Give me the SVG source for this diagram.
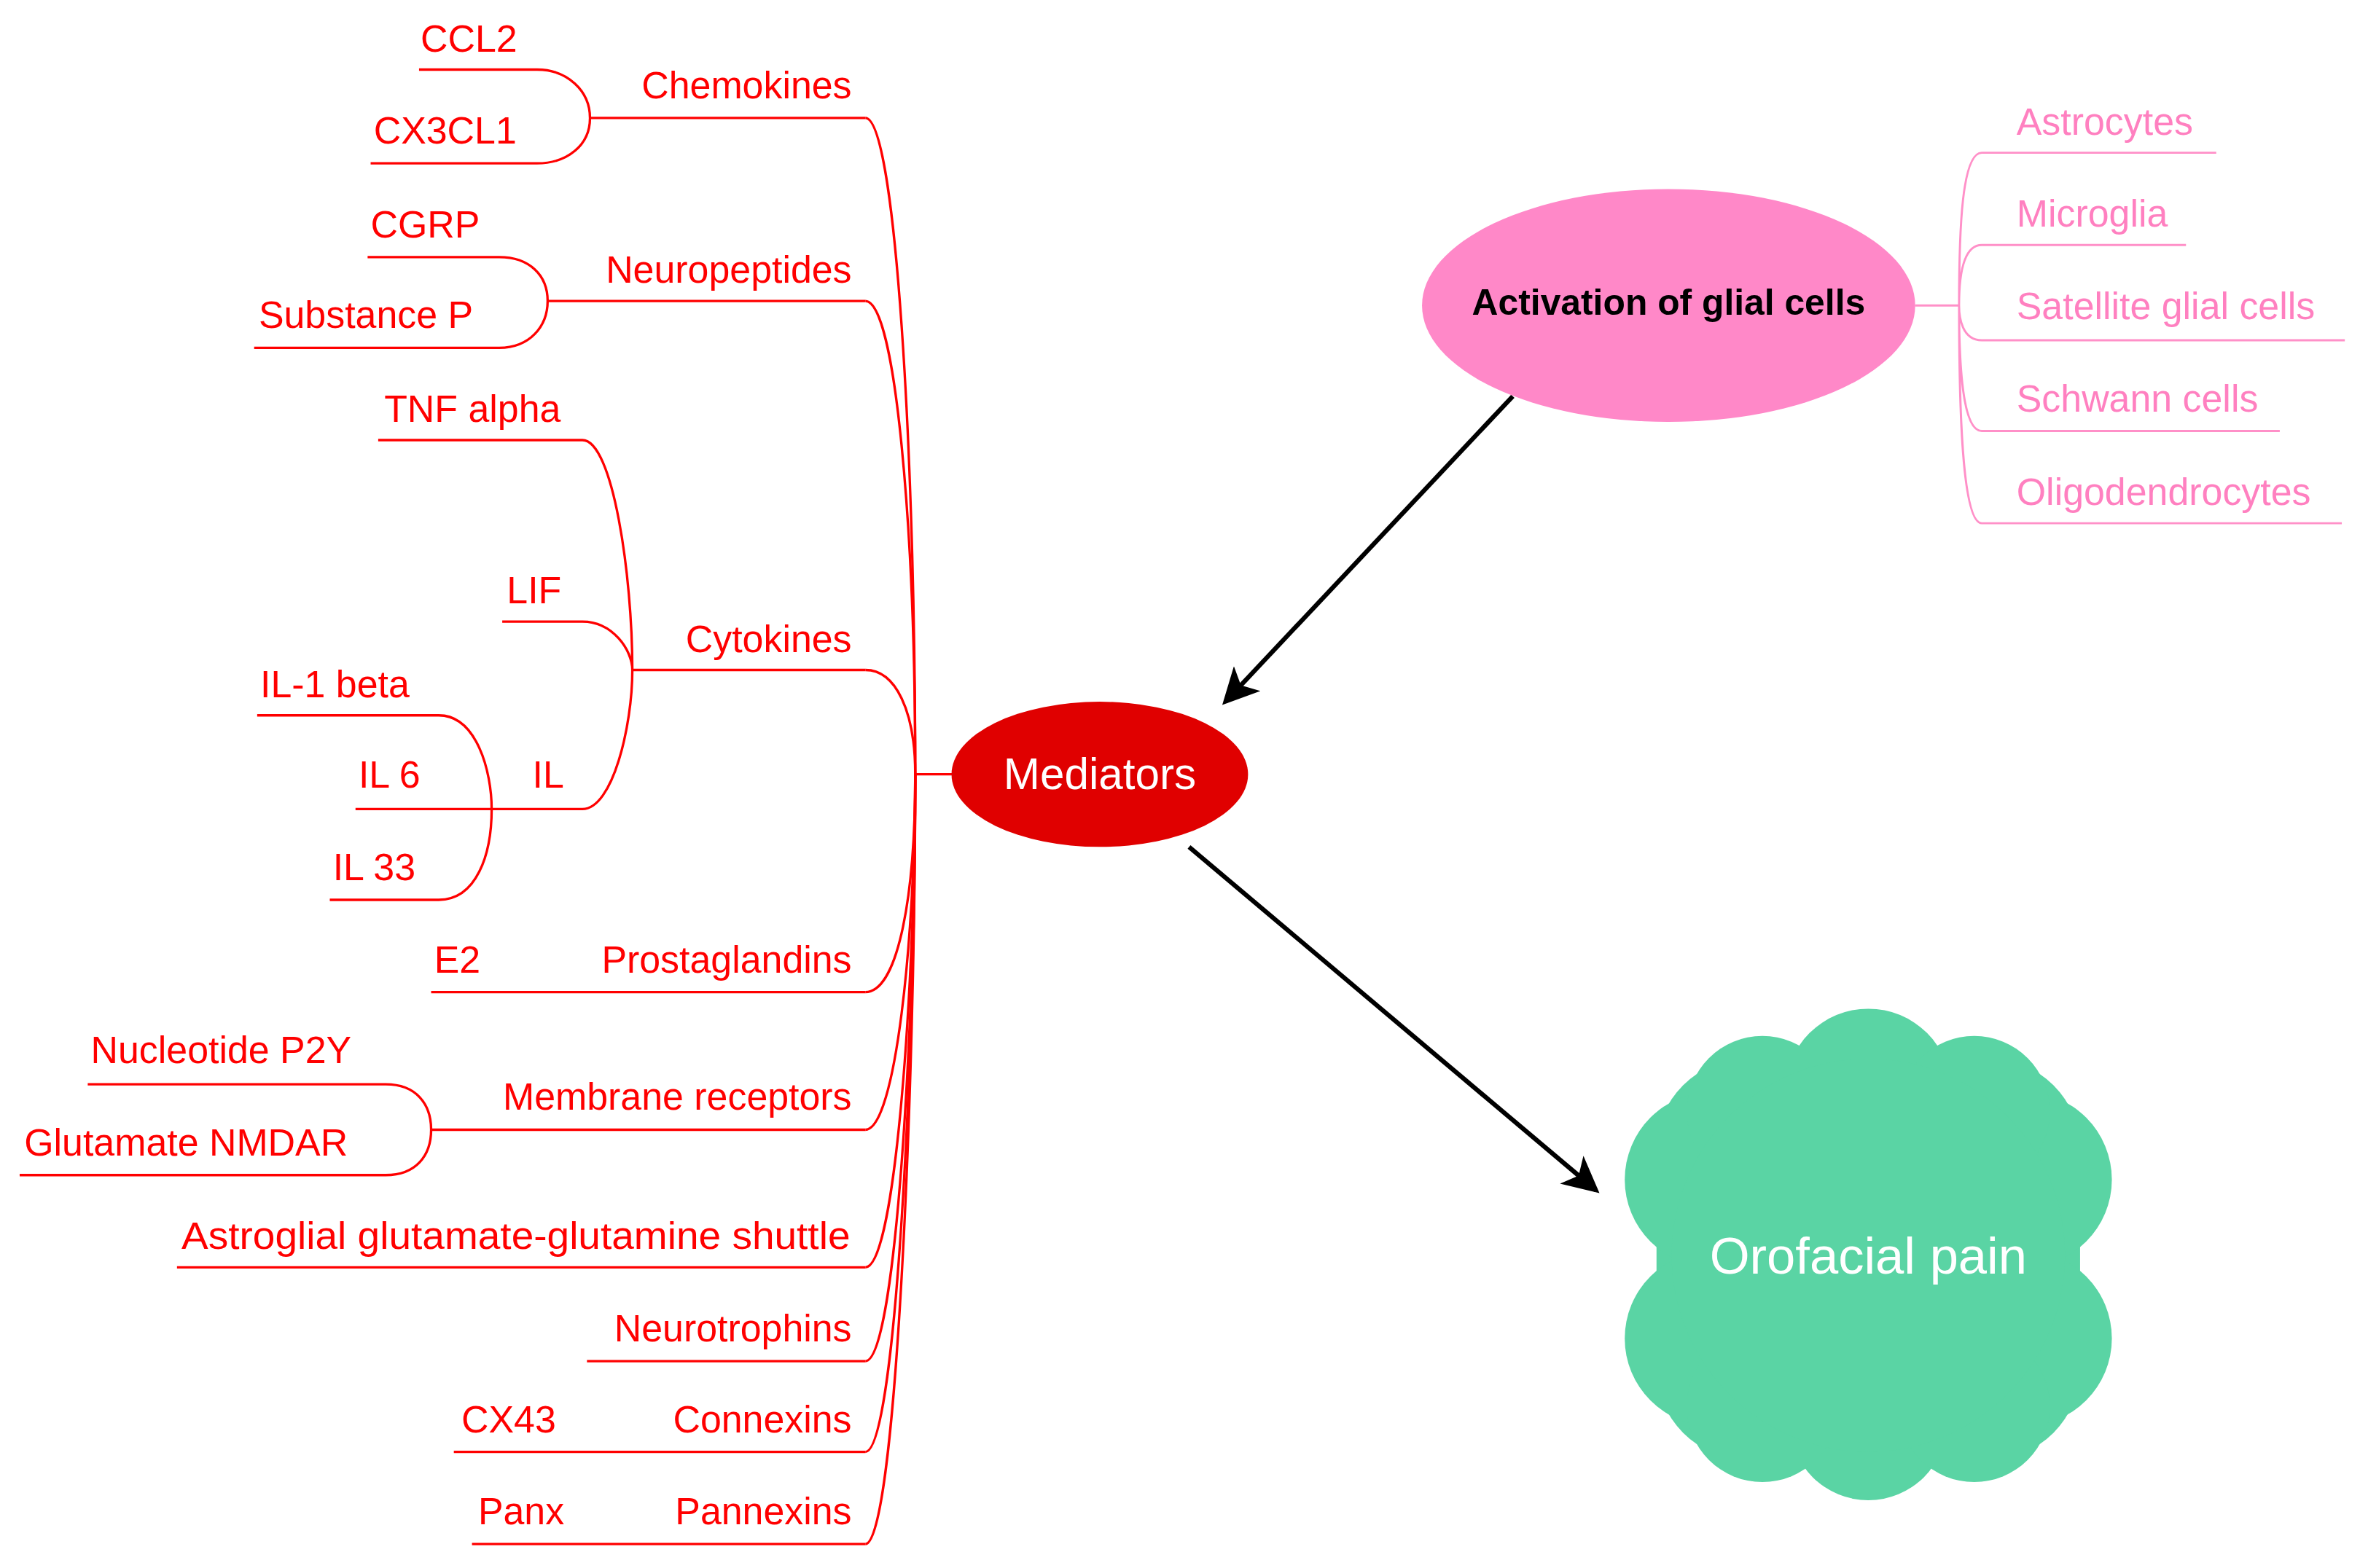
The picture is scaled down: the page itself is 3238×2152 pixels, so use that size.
<svg xmlns="http://www.w3.org/2000/svg" width="3238" height="2152" viewBox="0 0 3238 2152">
<style>
.r{fill:none;stroke:#ff0000;stroke-width:1.6}
.p{fill:none;stroke:#ff90c8;stroke-width:1.4}
.t{font-family:"Liberation Sans",Arial,sans-serif;font-size:25px;fill:#ff0000}
.e{text-anchor:end}
.pt{font-family:"Liberation Sans",Arial,sans-serif;font-size:25px;fill:#ff80c0}
.a{stroke:#000;stroke-width:3;fill:none;marker-end:url(#ah)}
</style>
<defs><marker id="ah" markerWidth="8" markerHeight="8" refX="7" refY="4" orient="auto" markerUnits="strokeWidth"><path d="M0,0 L8,4 L0,8 L2,4 Z" fill="#000"/></marker></defs>
<rect width="3238" height="2152" fill="#fff"/>
<g transform="scale(2.0756)">
<g id="connectors">
<path class="r" d="M605,512 H630"/>
<path class="r" d="M572,78 C592,78 605,300 605,512"/>
<path class="r" d="M572,199 C592,199 605,350 605,512"/>
<path class="r" d="M572,443 C592,443 605,470 605,512"/>
<path class="r" d="M572,656 C592,656 605,600 605,512"/>
<path class="r" d="M572,747 C592,747 605,620 605,512"/>
<path class="r" d="M572,838 C592,838 605,650 605,512"/>
<path class="r" d="M572,900 C592,900 605,680 605,512"/>
<path class="r" d="M572,960 C592,960 605,700 605,512"/>
<path class="r" d="M572,1021 C592,1021 605,720 605,512"/>
<path class="a" d="M1000,262 L810,464"/>
<path class="a" d="M786,560 L1055,787"/>
<path class="p" d="M1266,202 H1295"/>
<path class="p" d="M1310,101 C1297,101 1295,150 1295,202 M1310,162 C1297,162 1295,185 1295,202 M1310,225 C1297,225 1295,210 1295,202 M1310,285 C1297,285 1295,240 1295,202 M1310,346 C1297,346 1295,270 1295,202"/>
</g>
<g id="chemokines">
<path class="r" d="M390,78 H572 M277,46 H355 C375,46 390,60 390,78 C390,96 375,108 355,108 H245"/>
<text class="t e" x="563" y="65">Chemokines</text>
<text class="t" x="278" y="34">CCL2</text>
<text class="t" x="247" y="95">CX3CL1</text>
</g>
<g id="neuropeptides">
<path class="r" d="M362,199 H572 M243,170 H330 C350,170 362,182 362,199 C362,216 350,230 330,230 H168"/>
<text class="t e" x="563" y="187">Neuropeptides</text>
<text class="t" x="245" y="157">CGRP</text>
<text class="t" x="171" y="217">Substance P</text>
</g>
<g id="cytokines">
<path class="r" d="M418,443 H572 M250,291 H385 C405,291 418,380 418,443 M332,411 H385 C405,411 418,430 418,443 M235,535 H385 C405,535 418,480 418,443"/>
<path class="r" d="M170,473 H290 C315,473 325,510 325,535 C325,565 315,595 290,595 H218"/>
<text class="t e" x="563" y="431">Cytokines</text>
<text class="t" x="254" y="279">TNF alpha</text>
<text class="t" x="335" y="399">LIF</text>
<text class="t" x="352" y="521">IL</text>
<text class="t" x="172" y="461">IL-1 beta</text>
<text class="t" x="237" y="521">IL 6</text>
<text class="t" x="220" y="582">IL 33</text>
</g>
<g id="prostaglandins">
<path class="r" d="M285,656 H572"/>
<text class="t e" x="563" y="643">Prostaglandins</text>
<text class="t" x="287" y="643">E2</text>
</g>
<g id="membrane">
<path class="r" d="M285,747 H572 M58,717 H255 C275,717 285,730 285,747 C285,764 275,777 255,777 H13"/>
<text class="t e" x="563" y="734">Membrane receptors</text>
<text class="t" x="60" y="703">Nucleotide P2Y</text>
<text class="t" x="16" y="764">Glutamate NMDAR</text>
</g>
<g id="astroglial">
<path class="r" d="M117,838 H572"/>
<text class="t e" x="562" y="826" textLength="442" lengthAdjust="spacingAndGlyphs">Astroglial glutamate-glutamine shuttle</text>
</g>
<g id="neurotrophins">
<path class="r" d="M388,900 H572"/>
<text class="t e" x="563" y="887">Neurotrophins</text>
</g>
<g id="connexins">
<path class="r" d="M300,960 H572"/>
<text class="t e" x="563" y="947">Connexins</text>
<text class="t" x="305" y="947">CX43</text>
</g>
<g id="pannexins">
<path class="r" d="M312,1021 H572"/>
<text class="t e" x="563" y="1008">Pannexins</text>
<text class="t" x="316" y="1008">Panx</text>
</g>
<g id="mediators">
<ellipse cx="727" cy="512" rx="98" ry="48" fill="#e00000"/>
<text x="727" y="522" text-anchor="middle" font-family="Liberation Sans,Arial,sans-serif" font-size="29" fill="#fff">Mediators</text>
</g>
<g id="glial">
<ellipse cx="1103" cy="202" rx="163" ry="77" fill="#ff88c8"/>
<text x="1103" y="208" text-anchor="middle" font-family="Liberation Sans,Arial,sans-serif" font-size="24" font-weight="bold" fill="#000">Activation of glial cells</text>
<path class="p" d="M1310,101 H1465 M1310,162 H1445 M1310,225 H1550 M1310,285 H1507 M1310,346 H1548"/>
<text class="pt" x="1333" y="89">Astrocytes</text>
<text class="pt" x="1333" y="150">Microglia</text>
<text class="pt" x="1333" y="211">Satellite glial cells</text>
<text class="pt" x="1333" y="272">Schwann cells</text>
<text class="pt" x="1333" y="334">Oligodendrocytes</text>
</g>
<g id="orofacial" fill="#5ad4a4">
<rect x="1095" y="700" width="280" height="265" rx="60"/>
<circle cx="1235" cy="722" r="55"/>
<circle cx="1235" cy="940" r="52"/>
<circle cx="1132" cy="780" r="58"/>
<circle cx="1338" cy="780" r="58"/>
<circle cx="1132" cy="885" r="58"/>
<circle cx="1338" cy="885" r="58"/>
<circle cx="1165" cy="735" r="50"/>
<circle cx="1305" cy="735" r="50"/>
<circle cx="1165" cy="930" r="50"/>
<circle cx="1305" cy="930" r="50"/>
<circle cx="1235" cy="830" r="130"/>
<text x="1235" y="842" text-anchor="middle" font-family="Liberation Sans,Arial,sans-serif" font-size="34" fill="#fff">Orofacial pain</text>
</g>
</g>
</svg>
